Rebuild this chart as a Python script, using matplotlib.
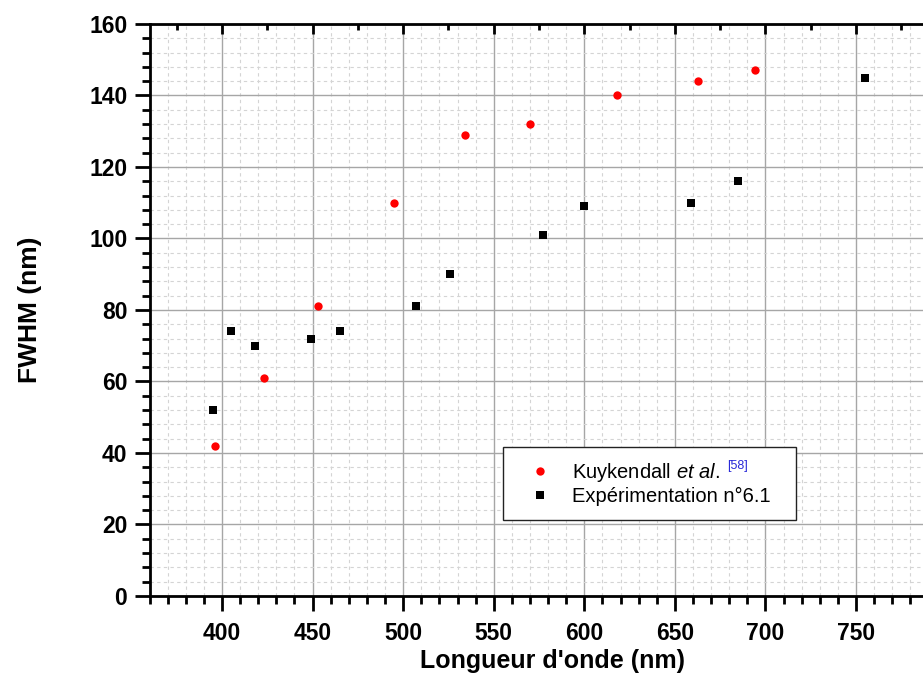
import matplotlib
matplotlib.use('Agg')
import matplotlib.pyplot as plt
from matplotlib.ticker import MultipleLocator
from matplotlib.transforms import IdentityTransform

plt.rcParams['font.family'] = 'Liberation Sans'
plt.rcParams['mathtext.fontset'] = 'custom'
plt.rcParams['mathtext.it'] = 'Liberation Sans:italic'
plt.rcParams['mathtext.rm'] = 'Liberation Sans'

# Kuykendall et al. [58]
kuy_x = [396, 423, 453, 495, 534, 570, 618, 663, 694]
kuy_y = [42, 61, 81, 110, 129, 132, 140, 144, 147]
# Expérimentation n°6.1
exp_x = [395, 405, 418, 449, 465, 507, 526, 577, 600, 659, 685, 755]
exp_y = [52, 74, 70, 72, 74, 81, 90, 101, 109, 110, 116, 145]

fig = plt.figure(figsize=(9.23, 6.87), dpi=100)
# the plot runs off the right edge of the picture, as in the original crop
ax = fig.add_axes([0.162, 0.1325, 0.844, 0.8326])

ax.plot(kuy_x, kuy_y, 'o', color='#ff0000', markersize=6, markeredgewidth=0,
        label=r'Kuykendall $\it{et\ al.}$', zorder=3)
ax.plot(exp_x, exp_y, 's', color='black', markersize=5.2, markeredgewidth=0,
        label='Expérimentation n°6.1', zorder=3)

ax.set_xlim(360, 790)
ax.set_ylim(0, 160)
ax.xaxis.set_major_locator(MultipleLocator(50))
ax.xaxis.set_minor_locator(MultipleLocator(10))
ax.yaxis.set_major_locator(MultipleLocator(20))
ax.yaxis.set_minor_locator(MultipleLocator(4))

ax.set_axisbelow(True)
ax.grid(which='major', color='#a6a6a6', lw=1.0, ls='-')
ax.grid(which='minor', color='#d4d4d4', lw=0.8, ls=(0, (3, 3)))

for s in ['left', 'bottom', 'top']:
    ax.spines[s].set_linewidth(2.0)
ax.spines['right'].set_visible(False)

ax.tick_params(which='major', direction='out', length=11, width=2.0,
               labelsize=16.5, pad=5)
ax.tick_params(which='minor', direction='out', length=6, width=2.0)
ax.tick_params(axis='x', which='major', pad=8)
ax.tick_params(top=False, right=False, which='both')
for lab in ax.get_xticklabels() + ax.get_yticklabels():
    lab.set_fontweight('bold')

# top axis: inward ticks, major 50 / minor 25
top = ax.twiny()
top.set_xlim(ax.get_xlim())
top.xaxis.set_major_locator(MultipleLocator(50))
top.xaxis.set_minor_locator(MultipleLocator(25))
top.tick_params(which='major', direction='in', length=7, width=2.0,
                labeltop=False, top=True, bottom=False)
top.tick_params(which='minor', direction='in', length=4, width=2.0,
                top=True, bottom=False)
for s in top.spines.values():
    s.set_visible(False)
top.yaxis.set_visible(False)

ax.set_xlabel("Longueur d'onde (nm)", fontsize=18, fontweight='bold')
ax.xaxis.set_label_coords(0.517, -0.093)
ax.set_ylabel('FWHM (nm)', fontsize=19, fontweight='bold', labelpad=34)

leg = ax.legend(loc='lower left', bbox_to_anchor=(0.454, 0.133, 0.376, 0.127),
                mode='expand', borderaxespad=0, fancybox=False, framealpha=1,
                edgecolor='#222222', fontsize=14.5, handletextpad=0.4,
                labelspacing=0.15, borderpad=0.7, handlelength=2.3)
leg.get_frame().set_linewidth(1.0)

fig.canvas.draw()
bb = leg.get_texts()[0].get_window_extent()
fig.text(bb.x1 + 8, bb.y1 + 1, '[58]', color='#2a2ad8', fontsize=9,
         va='top', ha='left', transform=IdentityTransform())

fig.savefig('out.png', dpi=100)
